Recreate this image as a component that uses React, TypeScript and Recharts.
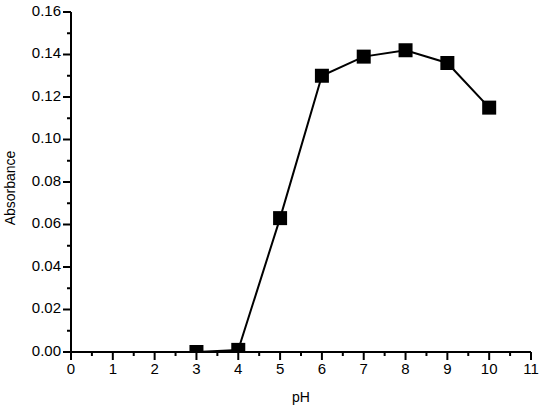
import React from "react";
import { LineChart, Line, XAxis, YAxis } from "recharts";

const phValues = [3, 4, 5, 6, 7, 8, 9, 10];
const absorbance = [0.0, 0.001, 0.063, 0.13, 0.139, 0.142, 0.136, 0.115];

// every half unit on x, every 0.01 on y; labels only on the majors
const xTicks = [0, 0.5, 1, 1.5, 2, 2.5, 3, 3.5, 4, 4.5, 5, 5.5, 6, 6.5, 7, 7.5, 8, 8.5, 9, 9.5, 10, 10.5, 11];
const yTicks = [0, 0.01, 0.02, 0.03, 0.04, 0.05, 0.06, 0.07, 0.08, 0.09, 0.1, 0.11, 0.12, 0.13, 0.14, 0.15, 0.16];

const data = phValues.map((ph, i) => ({ ph, abs: absorbance[i] }));

const FONT = "'Liberation Sans', Arial, sans-serif";

function XTick(props: any) {
  const { x, y, payload } = props;
  const v = payload.value;
  const major = Number.isInteger(v);
  return (
    <g>
      <line x1={x} x2={x} y1={y} y2={y + (major ? 8 : 4)} stroke="#000" strokeWidth={2} />
      {major && (
        <text x={x} y={y + 22} textAnchor="middle" fontSize={15} fontFamily={FONT} fill="#000">
          {v}
        </text>
      )}
    </g>
  );
}

function YTick(props: any) {
  const { x, y, payload } = props;
  const v = payload.value;
  const major = Math.round(v * 100) % 2 === 0;
  return (
    <g>
      <line x1={x - (major ? 8 : 4)} x2={x} y1={y} y2={y} stroke="#000" strokeWidth={2} />
      {major && (
        <text x={x - 10} y={y + 3.5} textAnchor="end" fontSize={15} fontFamily={FONT} fill="#000">
          {v.toFixed(2)}
        </text>
      )}
    </g>
  );
}

function Square(props: any) {
  const { cx, cy, index } = props;
  if (cx == null || cy == null) return <g key={index} />;
  return <rect key={index} x={cx - 7} y={cy - 7} width={14} height={14} fill="#000" />;
}

function YLabel(props: any) {
  const { viewBox } = props;
  const cx = viewBox.x + 10;
  const cy = viewBox.y + viewBox.height / 2 + 6;
  return (
    <text
      x={cx}
      y={cy}
      transform={`rotate(-90 ${cx} ${cy})`}
      textAnchor="middle"
      dominantBaseline="central"
      fontSize={14}
      fontFamily={FONT}
      fill="#000"
    >
      Absorbance
    </text>
  );
}

function XLabel(props: any) {
  const { viewBox } = props;
  const cx = viewBox.x + viewBox.width / 2;
  return (
    <text x={cx} y={viewBox.y + 50} textAnchor="middle" fontSize={14} fontFamily={FONT} fill="#000">
      pH
    </text>
  );
}

export default function App() {
  return (
    <div style={{ position: "absolute", left: 0, top: 0, width: 542, height: 410, background: "#fff" }}>
      <LineChart width={542} height={410} data={data} margin={{ top: 12, right: 11, bottom: 0, left: 0 }}>
        <XAxis
          dataKey="ph"
          type="number"
          domain={[0, 11]}
          ticks={xTicks}
          interval={0}
          tickSize={0}
          tickMargin={0}
          tick={<XTick />}
          height={58}
          axisLine={{ stroke: "#000", strokeWidth: 2 }}
          label={<XLabel />}
        />
        <YAxis
          type="number"
          domain={[0, 0.16]}
          ticks={yTicks}
          interval={0}
          allowDataOverflow
          tickSize={0}
          tickMargin={0}
          tick={<YTick />}
          width={71}
          axisLine={{ stroke: "#000", strokeWidth: 2 }}
          label={<YLabel />}
        />
        <Line
          dataKey="abs"
          type="linear"
          stroke="#000"
          strokeWidth={2}
          dot={<Square />}
          activeDot={false}
          isAnimationActive={false}
        />
      </LineChart>
    </div>
  );
}
